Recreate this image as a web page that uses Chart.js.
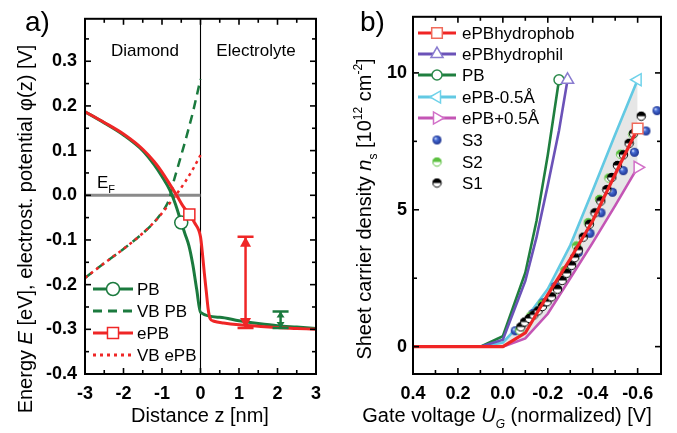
<!DOCTYPE html>
<html><head><meta charset="utf-8">
<script src="https://cdn.jsdelivr.net/npm/chart.js@4/dist/chart.umd.min.js"></script>
<style>
html,body{margin:0;padding:0;background:#fff;}
#wrap{position:relative;width:677px;height:433px;overflow:hidden;background:#fff;}
#ca{position:absolute;left:0;top:0;width:340px;height:433px;}
#cb{position:absolute;left:340px;top:0;width:337px;height:433px;}
</style></head><body>
<div id="wrap"><canvas id="ca" width="340" height="433"></canvas><canvas id="cb" width="337" height="433"></canvas></div>
<script>
// ---------------- Panel a data ----------------
const A_LABELS = ['PB', 'VB PB', 'ePB', 'VB ePB'];
const PB_Z = [-3, -2.5, -2, -1.5, -1.2, -1, -0.8, -0.65, -0.5, -0.4, -0.3, -0.2, -0.1, 0, 0.5, 1, 1.5, 2, 2.5, 3];
const PB_E = [0.187, 0.162, 0.135, 0.1, 0.068, 0.042, 0.012, -0.02, -0.061, -0.087, -0.113, -0.155, -0.21, -0.262, -0.273, -0.281, -0.287, -0.292, -0.295, -0.298];
const PB_MARK_Z = -0.5;
const EPB_Z = [-3, -2.5, -2, -1.5, -1.2, -1, -0.8, -0.6, -0.45, -0.29, -0.15, 0, 0.05, 0.1, 0.15, 0.2, 0.25, 0.35, 0.6, 1, 1.5, 2, 2.5, 3];
const EPB_E = [0.187, 0.163, 0.137, 0.103, 0.075, 0.052, 0.025, -0.003, -0.025, -0.043, -0.062, -0.093, -0.13, -0.175, -0.215, -0.255, -0.276, -0.282, -0.286, -0.29, -0.293, -0.296, -0.298, -0.3];
const EPB_MARK_Z = -0.29;
const VBPB_Z = [-3, -2.5, -2, -1.5, -1.2, -1, -0.9, -0.8, -0.7, -0.6, -0.5, -0.4, -0.3, -0.2, -0.1, 0];
const VBPB_E = [-0.185, -0.152, -0.12, -0.085, -0.06, -0.038, -0.025, -0.005, 0.03, 0.06, 0.09, 0.12, 0.152, 0.185, 0.222, 0.26];
const VBEPB_Z = [-3, -2.5, -2, -1.5, -1.2, -1, -0.8, -0.6, -0.4, -0.2, 0];
const VBEPB_E = [-0.185, -0.152, -0.12, -0.085, -0.06, -0.04, -0.018, 0.005, 0.03, 0.058, 0.09];
const EF_Z = [-3, 0];
const EF_E = [0, 0];
const ERR_Z = [1.17, 2.08];
const ERR_LO = [-0.297, -0.297];
const ERR_HI = [-0.093, -0.26];

// ---------------- Panel b data ----------------
const B_LABELS = ['ePBhydrophob', 'ePBhydrophil', 'PB', 'ePB-0.5Å', 'ePB+0.5Å', 'S3', 'S2', 'S1'];
const UG_FULL = [0.4, 0.3, 0.2, 0.1, 0, -0.1, -0.2, -0.3, -0.4, -0.5, -0.6];
const NS_HYDROPHOB = [0, 0, 0, 0, 0, 0.5, 1.9, 3.2, 4.6, 6.3, 7.97];
const NS_MINUS05 = [0, 0, 0, 0, 0.15, 1.0, 2.1, 3.7, 5.7, 7.75, 9.75];
const NS_PLUS05 = [0, 0, 0, 0, 0, 0.3, 1.2, 2.5, 3.8, 5.15, 6.55];
const UG_PB = [0.4, 0.1, 0, -0.1, -0.15, -0.2, -0.25];
const NS_PB = [0, 0, 0.38, 2.7, 4.6, 7.0, 9.75];
const UG_HYDROPHIL = [0.4, 0.1, 0, -0.1, -0.15, -0.2, -0.25, -0.288];
const NS_HYDROPHIL = [0, 0, 0.25, 2.4, 4.0, 5.9, 7.9, 9.75];
const S3_U = [-0.055, -0.134, -0.179, -0.233, -0.285, -0.336, -0.388, -0.437, -0.488, -0.536, -0.586, -0.637, -0.686];
const S3_N = [0.58, 1.21, 1.6, 2.2, 2.8, 3.44, 4.14, 4.89, 5.64, 6.43, 7.1, 7.88, 8.62];
const S2_U = [-0.075, -0.125, -0.175, -0.226, -0.276, -0.328, -0.38, -0.43, -0.472, -0.524, -0.579];
const S2_N = [0.6, 1.12, 1.55, 2.05, 2.78, 3.68, 4.53, 5.38, 6.16, 7.03, 7.75];
const S1_U = [-0.08, -0.097, -0.118, -0.138, -0.157, -0.176, -0.197, -0.217, -0.243, -0.264, -0.284, -0.306, -0.32, -0.336, -0.358, -0.385, -0.41, -0.436, -0.463, -0.485, -0.51, -0.537, -0.562, -0.582, -0.616];
const S1_N = [0.72, 0.9, 1.03, 1.16, 1.31, 1.47, 1.64, 1.82, 2.1, 2.42, 2.68, 2.97, 3.25, 3.53, 4.0, 4.47, 4.89, 5.32, 5.74, 6.18, 6.62, 7.01, 7.43, 7.79, 8.42];

// ---------------- helpers ----------------
const FONT = '"Liberation Sans", Arial, Helvetica, sans-serif';
Chart.defaults.font.family = FONT;
Chart.defaults.color = '#000';
const GREEN = '#1b7a3e', RED = '#ef2626', GRAY = '#8a8a8a';
const B_COL = {red:'#f02525', purple:'#6b52b8', green:'#1f7f3f', cyan:'#62c9e3', magenta:'#c455b5'};
const B_MK = {red:'#f06a5a', purple:'#8a7cd0', green:'#2c8a4c', cyan:'#6fd2ea', magenta:'#d270c8'};

function pts(xs, ys){ return xs.map((x,i)=>({x:x, y:ys[i]})); }
function markAt(xs, xv, r){ return xs.map(x => Math.abs(x-xv)<1e-9 ? r : 0); }
function markLast(xs, r){ return xs.map((x,i)=> i===xs.length-1 ? r : 0); }

function drawRich(ctx, runs, x, y, size, align, rot){
  ctx.save();
  ctx.translate(x,y);
  if (rot) ctx.rotate(rot);
  const parts = runs.map(r => {
    const s = (r.sub||r.sup) ? Math.round(size*0.62) : size;
    const font = (r.i?'italic ':'') + s + 'px ' + FONT;
    ctx.font = font;
    return {r:r, font:font, w:ctx.measureText(r.t).width, dy: r.sub ? size*0.28 : (r.sup ? -size*0.45 : 0)};
  });
  const total = parts.reduce((a,p)=>a+p.w,0);
  let cx = align==='center' ? -total/2 : (align==='right' ? -total : 0);
  ctx.textBaseline='alphabetic'; ctx.textAlign='left';
  ctx.fillStyle='#000';
  for (const p of parts){ ctx.font=p.font; ctx.fillText(p.r.t, cx, p.dy); cx += p.w; }
  ctx.restore();
}

function drawMarker(ctx, style, x, y, r, stroke, fill, rotDeg, lw){
  ctx.save(); ctx.translate(x,y); ctx.rotate((rotDeg||0)*Math.PI/180);
  ctx.beginPath();
  if (style==='circle') ctx.arc(0,0,r,0,2*Math.PI);
  else if (style==='rect'){ const s=r*Math.SQRT1_2; ctx.rect(-s,-s,2*s,2*s); }
  else if (style==='triangle'){
    for (let k=0;k<3;k++){ const ang=k*2*Math.PI/3; const px=Math.sin(ang)*r, py=-Math.cos(ang)*r; if(k) ctx.lineTo(px,py); else ctx.moveTo(px,py); }
    ctx.closePath();
  }
  ctx.fillStyle=fill; ctx.fill(); ctx.lineWidth=lw||1.5; ctx.strokeStyle=stroke; ctx.stroke();
  ctx.restore();
}

function drawFrame(chart, xMinor, yMinor, majLen, minLen){
  const ctx = chart.ctx, a = chart.chartArea, x = chart.scales.x, y = chart.scales.y;
  ctx.save();
  ctx.strokeStyle='#000'; ctx.lineWidth=1.6;
  const ln=(x1,y1,x2,y2)=>{ctx.beginPath();ctx.moveTo(x1,y1);ctx.lineTo(x2,y2);ctx.stroke();};
  const xmin=Math.min(x.min,x.max), xmax=Math.max(x.min,x.max), xMaj=x.options.ticks.stepSize;
  for (let k=Math.ceil(xmin/xMinor-1e-6); k*xMinor<=xmax+1e-9; k++){
    const v=k*xMinor, p=x.getPixelForValue(v);
    if (p<a.left+2||p>a.right-2) continue;
    const L = Math.abs(v/xMaj-Math.round(v/xMaj))<1e-6 ? majLen : minLen;
    ln(p,a.bottom,p,a.bottom-L); ln(p,a.top,p,a.top+L);
  }
  const yMaj=y.options.ticks.stepSize;
  for (let k=Math.ceil(y.min/yMinor-1e-6); k*yMinor<=y.max+1e-9; k++){
    const v=k*yMinor, p=y.getPixelForValue(v);
    if (p<a.top+2||p>a.bottom-2) continue;
    const L = Math.abs(v/yMaj-Math.round(v/yMaj))<1e-6 ? majLen : minLen;
    ln(a.left,p,a.left+L,p); ln(a.right,p,a.right-L,p);
  }
  ctx.lineWidth=2;
  ctx.strokeRect(a.left,a.top,a.right-a.left,a.bottom-a.top);
  ctx.restore();
}

function makeDot(kind){
  const c=document.createElement('canvas'); c.width=11; c.height=11;
  const g=c.getContext('2d'); const cx=5.5, cy=5.5, r=4.5;
  if (kind==='S3'){
    const gr=g.createRadialGradient(cx-1.6,cy-1.6,0.3,cx,cy,r);
    gr.addColorStop(0,'#dde6ff'); gr.addColorStop(0.3,'#4a70d8'); gr.addColorStop(1,'#1a2f8c');
    g.fillStyle=gr; g.beginPath(); g.arc(cx,cy,r,0,2*Math.PI); g.fill();
  } else {
    const col = kind==='S1' ? '#000' : '#5cc040';
    g.fillStyle='#fff'; g.beginPath(); g.arc(cx,cy,r,0,2*Math.PI); g.fill();
    g.fillStyle=col; g.beginPath(); g.arc(cx,cy,r,Math.PI,2*Math.PI); g.closePath(); g.fill();
    g.strokeStyle=col; g.lineWidth=1; g.beginPath(); g.arc(cx,cy,r-0.3,0,2*Math.PI); g.stroke();
  }
  return c;
}
const DOT = {S3:makeDot('S3'), S2:makeDot('S2'), S1:makeDot('S1')};

const tickFont = {size:18, weight:'bold', family:FONT};

// ---------------- Panel a chart ----------------
const A_YTITLE = [{t:'Energy '},{t:'E',i:1},{t:' [eV], electrost. potential φ(z) [V]'}];
const A_XTITLE = [{t:'Distance z [nm]'}];

const pluginA = {
  id:'panelA',
  beforeDatasetsDraw(chart){
    const ctx=chart.ctx, a=chart.chartArea, x=chart.scales.x;
    const p=x.getPixelForValue(0);
    ctx.save(); ctx.strokeStyle='#000'; ctx.lineWidth=1.1;
    ctx.beginPath(); ctx.moveTo(p,a.top); ctx.lineTo(p,a.bottom); ctx.stroke(); ctx.restore();
  },
  afterDatasetsDraw(chart){
    const ctx=chart.ctx, x=chart.scales.x, y=chart.scales.y;
    const cols=[RED, GREEN], sizes=[[10,5.5],[6,4]];
    ERR_Z.forEach((z,i)=>{
      const px=x.getPixelForValue(z), pl=y.getPixelForValue(ERR_LO[i]), ph=y.getPixelForValue(ERR_HI[i]);
      const h=sizes[i][0], w=sizes[i][1];
      ctx.save(); ctx.strokeStyle=cols[i]; ctx.fillStyle=cols[i]; ctx.lineWidth=2.5;
      ctx.beginPath(); ctx.moveTo(px,ph); ctx.lineTo(px,pl); ctx.stroke();
      ctx.beginPath(); ctx.moveTo(px-8,ph); ctx.lineTo(px+8,ph); ctx.moveTo(px-8,pl); ctx.lineTo(px+8,pl); ctx.stroke();
      ctx.beginPath(); ctx.moveTo(px,ph); ctx.lineTo(px-w,ph+h); ctx.lineTo(px+w,ph+h); ctx.closePath(); ctx.fill();
      ctx.beginPath(); ctx.moveTo(px,pl); ctx.lineTo(px-w,pl-h); ctx.lineTo(px+w,pl-h); ctx.closePath(); ctx.fill();
      ctx.restore();
    });
  },
  afterDraw(chart){
    const ctx=chart.ctx;
    drawFrame(chart, 0.5, 0.05, 6, 4);
    ctx.save();
    ctx.fillStyle='#000'; ctx.textBaseline='alphabetic';
    ctx.font='28px '+FONT; ctx.textAlign='left'; ctx.fillText('a)', 25, 31);
    ctx.font='17px '+FONT; ctx.textAlign='center';
    ctx.fillText('Diamond', 145, 56); ctx.fillText('Electrolyte', 256, 56);
    ctx.restore();
    drawRich(ctx, [{t:'E'},{t:'F',sub:1}], 97, 188, 17, 'left', 0);
    // legend
    const rows=[289,311,333,355], styles=[
      {c:GREEN, d:[], m:'circle'}, {c:GREEN, d:[9,6], m:null},
      {c:RED, d:[], m:'rect'}, {c:RED, d:[3,4], m:null}];
    rows.forEach((ry,i)=>{
      const s=styles[i];
      ctx.save(); ctx.strokeStyle=s.c; ctx.lineWidth=3; ctx.setLineDash(s.d);
      ctx.beginPath(); ctx.moveTo(93,ry); ctx.lineTo(133,ry); ctx.stroke(); ctx.restore();
      if (s.m==='circle') drawMarker(ctx,'circle',113,ry,6.5,GREEN,'#fff',0,1.5);
      if (s.m==='rect') drawMarker(ctx,'rect',113,ry,7.8,RED,'#fff',0,1.5);
      ctx.save(); ctx.fillStyle='#000'; ctx.font='17px '+FONT; ctx.textAlign='left'; ctx.textBaseline='alphabetic';
      ctx.fillText(A_LABELS[i], 137, ry+6); ctx.restore();
    });
    drawRich(ctx, A_XTITLE, 200, 422, 20, 'center', 0);
    drawRich(ctx, A_YTITLE, 32, 229, 20, 'center', -Math.PI/2);
  }
};

new Chart(document.getElementById('ca'), {
  type:'line',
  data:{datasets:[
    {label:'EF', data:pts(EF_Z,EF_E), borderColor:GRAY, borderWidth:3, pointRadius:0, order:9},
    {label:A_LABELS[1], data:pts(VBPB_Z,VBPB_E), borderColor:GREEN, borderWidth:2.5, borderDash:[9,6], pointRadius:0, cubicInterpolationMode:'monotone', order:5},
    {label:A_LABELS[3], data:pts(VBEPB_Z,VBEPB_E), borderColor:RED, borderWidth:2.5, borderDash:[3,4], pointRadius:0, cubicInterpolationMode:'monotone', order:4},
    {label:A_LABELS[0], data:pts(PB_Z,PB_E), borderColor:GREEN, borderWidth:3, cubicInterpolationMode:'monotone',
      pointRadius:markAt(PB_Z,PB_MARK_Z,6.5), pointStyle:'circle', pointBackgroundColor:'#fff', pointBorderColor:GREEN, pointBorderWidth:1.5, order:2},
    {label:A_LABELS[2], data:pts(EPB_Z,EPB_E), borderColor:RED, borderWidth:3, cubicInterpolationMode:'monotone',
      pointRadius:markAt(EPB_Z,EPB_MARK_Z,7.8), pointStyle:'rect', pointBackgroundColor:'#fff', pointBorderColor:RED, pointBorderWidth:1.5, order:1}
  ]},
  options:{
    responsive:false, animation:false, events:[],
    layout:{padding:{left:0,right:24,top:14,bottom:0}},
    plugins:{legend:{display:false}, tooltip:{enabled:false}},
    scales:{
      x:{type:'linear', min:-3, max:3, grid:{display:false, drawTicks:false}, border:{display:false},
        ticks:{stepSize:1, includeBounds:false, font:tickFont, color:'#000', padding:9, maxRotation:0, autoSkip:false,
          callback:v=>String(Math.round(v))},
        afterFit(s){ s.height=59; }},
      y:{type:'linear', min:-0.4, max:0.395, grid:{display:false, drawTicks:false}, border:{display:false},
        ticks:{stepSize:0.1, includeBounds:false, font:tickFont, color:'#000', padding:8, autoSkip:false,
          callback:v=>{ const r=Math.round(v*10)/10; if (Math.abs(v-r)>1e-6) return ''; return Math.abs(r)<1e-9 ? '0.0' : r.toFixed(1); }},
        afterFit(s){ s.width=85; }}
    }
  },
  plugins:[pluginA]
});

// ---------------- Panel b chart ----------------
const B_YTITLE = [{t:'Sheet carrier density '},{t:'n',i:1},{t:'s',sub:1},{t:' [10'},{t:'12',sup:1},{t:' cm'},{t:'-2',sup:1},{t:']'}];
const B_XTITLE = [{t:'Gate voltage '},{t:'U',i:1},{t:'G',i:1,sub:1},{t:' (normalized) [V]'}];
const B_LEG = [
  {c:B_COL.red, mk:B_MK.red, m:'rect', r:7.5, rot:0},
  {c:B_COL.purple, mk:B_MK.purple, m:'triangle', r:7, rot:0},
  {c:B_COL.green, mk:B_MK.green, m:'circle', r:5, rot:0},
  {c:B_COL.cyan, mk:B_MK.cyan, m:'triangle', r:7, rot:-90},
  {c:B_COL.magenta, mk:B_MK.magenta, m:'triangle', r:7, rot:90},
  {dot:'S3'},{dot:'S2'},{dot:'S1'}];

const pluginB = {
  id:'panelB',
  afterDraw(chart){
    const ctx=chart.ctx;
    drawFrame(chart, 0.1, 2.5, 6, 4);
    ctx.save(); ctx.fillStyle='#000'; ctx.font='28px '+FONT; ctx.textAlign='left'; ctx.textBaseline='alphabetic';
    ctx.fillText('b)', 20, 31); ctx.restore();
    const rows=[33,54,75,97,118,140,162,183];
    rows.forEach((ry,i)=>{
      const s=B_LEG[i];
      if (s.dot){ ctx.drawImage(DOT[s.dot], 97-5.5, ry-5.5); }
      else {
        ctx.save(); ctx.strokeStyle=s.c; ctx.lineWidth=3; ctx.beginPath(); ctx.moveTo(78,ry); ctx.lineTo(116,ry); ctx.stroke(); ctx.restore();
        drawMarker(ctx, s.m, 97, ry, s.r, s.mk, '#fff', s.rot, 1.5);
      }
      ctx.save(); ctx.fillStyle='#000'; ctx.font='17px '+FONT; ctx.textAlign='left'; ctx.textBaseline='alphabetic';
      ctx.fillText(B_LABELS[i], 122, ry+6); ctx.restore();
    });
    drawRich(ctx, B_XTITLE, 167, 422, 20, 'center', 0);
    drawRich(ctx, B_YTITLE, 31, 209, 20, 'center', -Math.PI/2);
  }
};

function lineDS(label, xs, ys, col, mk, style, r, rot, order, extra){
  return Object.assign({label:label, data:pts(xs,ys), borderColor:col, borderWidth:2.6, tension:0,
    pointRadius:markLast(xs,r), pointStyle:style, pointRotation:rot, pointBackgroundColor:'#fff',
    pointBorderColor:mk, pointBorderWidth:1.5, order:order}, extra||{});
}

new Chart(document.getElementById('cb'), {
  type:'line',
  data:{datasets:[
    lineDS(B_LABELS[0], UG_FULL, NS_HYDROPHOB, B_COL.red, B_MK.red, 'rect', 7.5, 0, 0, {borderWidth:3.2}),
    lineDS(B_LABELS[1], UG_HYDROPHIL, NS_HYDROPHIL, B_COL.purple, B_MK.purple, 'triangle', 7, 0, 4),
    lineDS(B_LABELS[2], UG_PB, NS_PB, B_COL.green, B_MK.green, 'circle', 5, 0, 5),
    lineDS(B_LABELS[3], UG_FULL, NS_MINUS05, B_COL.cyan, B_MK.cyan, 'triangle', 7, -90, 7, {fill:{target:4}, backgroundColor:'#e6e6e6'}),
    lineDS(B_LABELS[4], UG_FULL, NS_PLUS05, B_COL.magenta, B_MK.magenta, 'triangle', 7, 90, 6),
    {label:B_LABELS[5], data:pts(S3_U,S3_N), showLine:false, pointStyle:DOT.S3, pointRadius:5, order:3},
    {label:B_LABELS[6], data:pts(S2_U,S2_N), showLine:false, pointStyle:DOT.S2, pointRadius:5, order:2},
    {label:B_LABELS[7], data:pts(S1_U,S1_N), showLine:false, pointStyle:DOT.S1, pointRadius:5, order:1}
  ]},
  options:{
    responsive:false, animation:false, events:[],
    layout:{padding:{left:0,right:16,top:14,bottom:0}},
    plugins:{legend:{display:false}, tooltip:{enabled:false}},
    scales:{
      x:{type:'linear', reverse:true, min:-0.704, max:0.4, grid:{display:false, drawTicks:false}, border:{display:false},
        ticks:{stepSize:0.2, includeBounds:false, font:tickFont, color:'#000', padding:9, maxRotation:0, autoSkip:false,
          callback:v=>{ const r=Math.round(v*10)/10; return Math.abs(r)<1e-9 ? '0.0' : r.toFixed(1); }},
        afterFit(s){ s.height=59; }},
      y:{type:'linear', min:-1, max:12.05, grid:{display:false, drawTicks:false}, border:{display:false},
        ticks:{stepSize:5, includeBounds:false, font:tickFont, color:'#000', padding:6, autoSkip:false,
          callback:v=>String(Math.round(v))},
        afterFit(s){ s.width=73; }}
    }
  },
  plugins:[pluginB]
});
</script>
</body></html>
